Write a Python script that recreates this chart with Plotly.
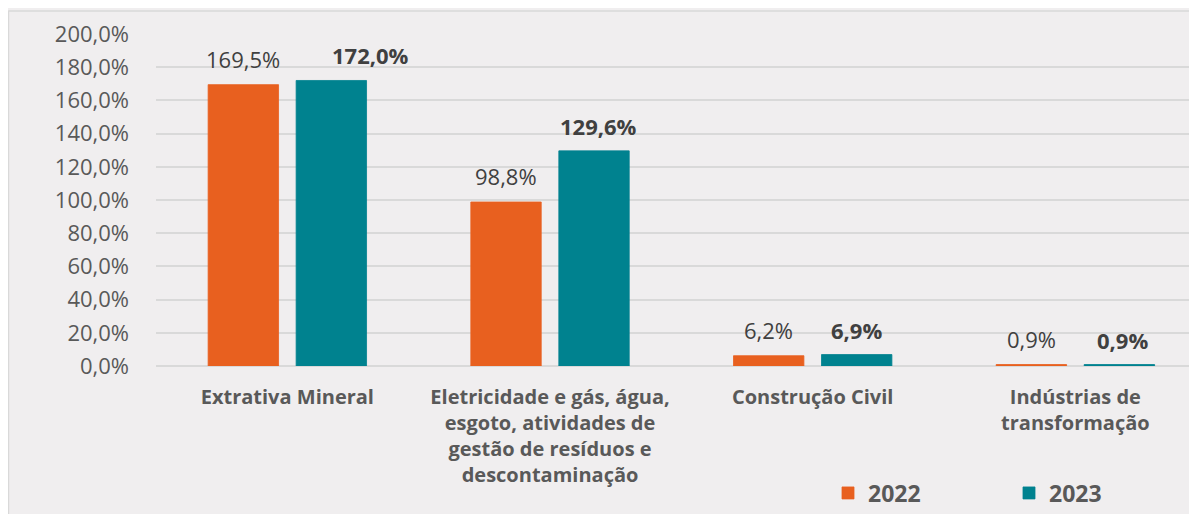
import plotly.graph_objects as go

categories = ["Extrativa Mineral",
              "Eletricidade e gás, água,<br>esgoto, atividades de<br>gestão de resíduos e<br>descontaminação",
              "Construção Civil",
              "Indústrias de<br>transformação"]
series_names = ["2022", "2023"]
values_2022 = [169.5, 98.8, 6.2, 0.9]
values_2023 = [172.0, 129.6, 6.9, 0.9]
y_ticks = [0, 20, 40, 60, 80, 100, 120, 140, 160, 180, 200]

# label nudges (pixels) – style only
label_dx_2023 = [39, 4, 0, 3]

# the page body has an 8px margin: the figure sits at (8, 8) in the window
W, H = 1189, 506
ML, MR, MT, MB = 148, 0, 26, 148
PW, PH = W - ML - MR, H - MT - MB

BG = "#F0EEEF"
ORANGE = "#E8601F"
TEAL = "#00828F"
FONT = "Open Sans"


def fmt(v):
    return f"{v:.1f}".replace(".", ",") + "%"


fig = go.Figure()
fig.add_trace(go.Bar(x=categories, y=values_2022, name=series_names[0],
                     marker=dict(color=ORANGE, line=dict(color=ORANGE, width=0.8))))
fig.add_trace(go.Bar(x=categories, y=values_2023, name=series_names[1],
                     marker=dict(color=TEAL, line=dict(color=TEAL, width=0.8))))

annotations = []
for cat, v in zip(categories, values_2022):
    annotations.append(dict(x=cat, y=v, xref="x", yref="y", text=fmt(v), showarrow=False,
                            xshift=-44, yanchor="middle", yshift=26,
                            font=dict(family=FONT, size=22, color="#404040")))
for cat, v, dx in zip(categories, values_2023, label_dx_2023):
    annotations.append(dict(x=cat, y=v, xref="x", yref="y", text="<b>" + fmt(v) + "</b>", showarrow=False,
                            xshift=44 + dx, yanchor="middle", yshift=25,
                            font=dict(family=FONT, size=22, color="#404040")))


def px_to_paper_x(px):
    return (px - ML) / PW


def px_to_paper_y(py):
    return (H - MB - py) / PH


shapes = [
    dict(type="line", xref="paper", yref="paper",
         x0=px_to_paper_x(0.5), x1=px_to_paper_x(0.5), y0=px_to_paper_y(2.5), y1=px_to_paper_y(H + 5),
         line=dict(color="#D9D9D9", width=1.5)),
    dict(type="line", xref="paper", yref="paper",
         x0=px_to_paper_x(0.5), x1=px_to_paper_x(W + 5), y0=px_to_paper_y(3), y1=px_to_paper_y(3),
         line=dict(color="#D9D9D9", width=1.5)),
]

fig.update_layout(
    width=W, height=H,
    margin=dict(l=ML, r=MR, t=MT, b=MB, pad=0, autoexpand=False),
    paper_bgcolor=BG, plot_bgcolor=BG,
    separators=",.",
    barmode="group", bargap=0.33, bargroupgap=0.2,
    font=dict(family=FONT, size=20, color="#595959"),
    showlegend=True,
    legend=dict(orientation="h", x=px_to_paper_x(820), y=px_to_paper_y(485),
                xanchor="left", yanchor="middle",
                font=dict(family=FONT, size=23, color="#595959", weight="bold"),
                entrywidth=136, entrywidthmode="pixels",
                bgcolor="rgba(0,0,0,0)"),
    annotations=annotations,
    shapes=shapes,
)
fig.update_xaxes(range=[-0.5, 3.463], showgrid=False, showline=False, zeroline=False,
                 ticks="", ticklabelstandoff=17,
                 tickfont=dict(family=FONT, size=20, color="#595959", weight="bold"))
fig.update_yaxes(range=[0, 200], tickvals=y_ticks, ticktext=[fmt(t) for t in y_ticks],
                 showgrid=True, gridcolor="#D9D9D9", gridwidth=1.5,
                 zeroline=True, zerolinecolor="#D9D9D9", zerolinewidth=1.5,
                 showline=False, ticks="", ticklabelstandoff=26,
                 tickfont=dict(family=FONT, size=22, color="#595959"))

fig.write_html("out.html")
